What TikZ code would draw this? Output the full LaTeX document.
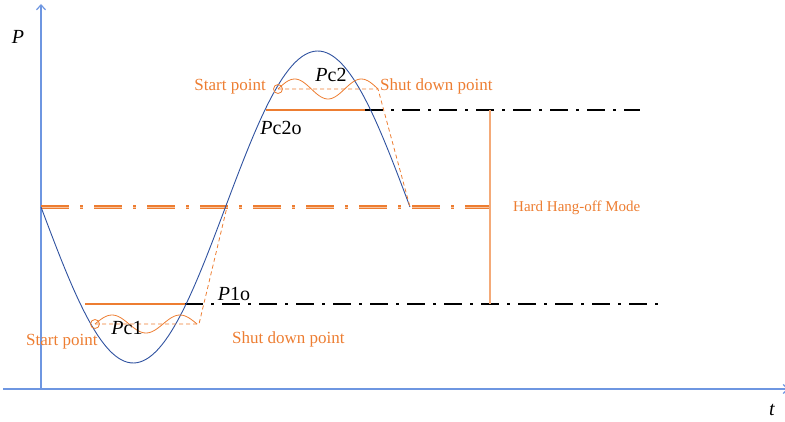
\documentclass[tikz,border=0pt]{standalone}
\usepackage{fontspec}
\setmainfont{Liberation Serif}
\usetikzlibrary{arrows.meta}

\definecolor{axisblue}{RGB}{110,150,225}
\definecolor{curveblue}{RGB}{47,82,160}
\definecolor{hangorange}{RGB}{237,125,49}
\definecolor{lightorange}{RGB}{244,170,120}

\begin{document}
\begin{tikzpicture}[x=1pt, y=-1pt,
   axis/.style={draw=axisblue, line width=1.2pt, -{Straight Barb[length=5pt, width=9pt]}},
   wave/.style={draw=curveblue, line width=0.9pt},
   path/.style={draw=hangorange, line width=0.8pt},
   trail/.style={draw=hangorange, line width=0.8pt, dash pattern=on 4pt off 3pt},
   solidband/.style={draw=hangorange, line width=2.8pt},
   blackdd/.style={draw=black, line width=2pt, dash pattern=on 18pt off 8pt on 3pt off 8pt},
   middd/.style={draw=hangorange, line width=1.3pt, double=white!55!hangorange,
                 double distance=0.9pt, dash pattern=on 28pt off 11pt on 3pt off 11pt},
   sym/.style={font=\fontsize{20}{20}\selectfont},
   note/.style={text=hangorange, font=\fontsize{17}{17}\selectfont}]
  \useasboundingbox (0,0) rectangle (785,422);

  % axes
  \coordinate (orig) at (41,389);
  \coordinate (ytop) at (41,4);
  \coordinate (xleft) at (3,389);
  \coordinate (xend) at (789,389);
  \draw[axis] (orig) -- (ytop);
  \draw[axis] (xleft) -- (xend);
  \node[sym] (plab) at (18,37) {\textit{P}};
  \node[sym] (tlab) at (772,410) {\textit{t}};

  % key points
  \coordinate (mid0) at (41,207);
  \coordinate (mid1) at (490,207);
  \coordinate (up0) at (266,110);
  \coordinate (up1) at (365,110);
  \coordinate (up2) at (640,110);
  \coordinate (lo0) at (85,304);
  \coordinate (lo1) at (185,304);
  \coordinate (lo2) at (658,304);
  \coordinate (hupper) at (490,110);
  \coordinate (hlower) at (490,304);

  % reference lines
  \draw[middd] (mid0) -- (mid1);
  \draw[blackdd] (up1) -- (up2);
  \draw[blackdd] (lo1) -- (lo2);
  \draw[solidband] (up0) -- (up1);
  \draw[solidband] (lo0) -- (lo1);
  \draw[draw=lightorange, line width=1.4pt] (hupper) -- (hlower);

  % motion curve
  \draw[wave] plot[domain=0:369, samples=120, smooth] ({41+\x},{207+156*sin(\x/369*360)});

  % upper start / shut down
  \coordinate (s2) at (278,89);
  \coordinate (e2) at (378,89);
  \coordinate (f2) at (410,207);
  \draw[trail] (s2) -- (e2) -- (f2);
  \draw[path] plot[domain=0:100, samples=50, smooth] ({278+\x},{89-10*sin(\x/100*540)});
  \draw[path] (s2) circle[radius=4.5pt];

  % lower start / shut down
  \coordinate (s1) at (95,324);
  \coordinate (e1) at (199,324);
  \coordinate (f1) at (227,207);
  \draw[trail] (s1) -- (e1) -- (f1);
  \draw[path] plot[domain=0:102, samples=50, smooth] ({95+\x},{324-9*sin(\x/102*540)});
  \draw[path] (s1) circle[radius=4.5pt];

  % labels
  \node[sym] (pc2) at (331,75) {\textit{P}c2};
  \node[sym] (pc2o) at (281,128) {\textit{P}c2o};
  \node[sym] (pc1) at (127,328) {\textit{P}c1};
  \node[sym] (p1o) at (234,294) {\textit{P}1o};
  \node[note, anchor=east, inner sep=0pt] (st2) at (266,87) {Start point};
  \node[note, anchor=west, inner sep=0pt] (sd2) at (380,86) {Shut down point};
  \node[note, anchor=west, inner sep=0pt] (st1) at (26,342) {Start point};
  \node[note, anchor=west, inner sep=0pt] (sd1) at (232,339) {Shut down point};
  \node[note, anchor=west, inner sep=0pt, font=\fontsize{15}{15}\selectfont]
     (hang) at (513,208) {Hard Hang-off Mode};
\end{tikzpicture}
\end{document}
